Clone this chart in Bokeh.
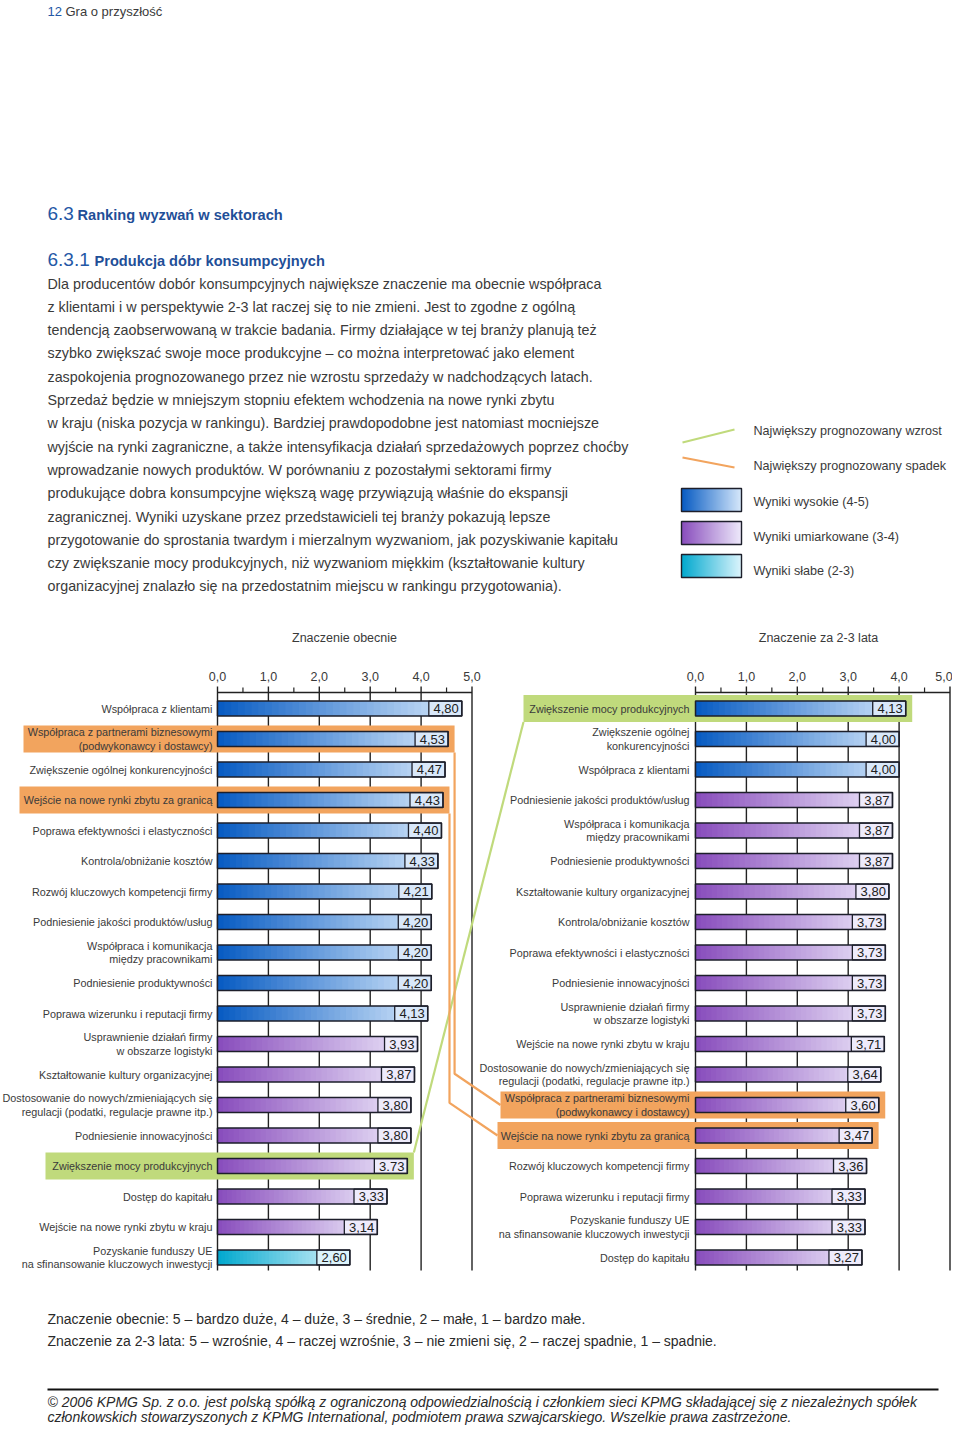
from bokeh.plotting import figure
from bokeh.models import Range1d, ColumnDataSource
from bokeh.embed import file_html
from bokeh.resources import INLINE
from bokeh.core.properties import value

# ---------------------------------------------------------------- data
left_categories = [
    "Współpraca z klientami",
    "Współpraca z partnerami biznesowymi\n(podwykonawcy i dostawcy)",
    "Zwiększenie ogólnej konkurencyjności",
    "Wejście na nowe rynki zbytu za granicą",
    "Poprawa efektywności i elastyczności",
    "Kontrola/obniżanie kosztów",
    "Rozwój kluczowych kompetencji firmy",
    "Podniesienie jakości produktów/usług",
    "Współpraca i komunikacja\nmiędzy pracownikami",
    "Podniesienie produktywności",
    "Poprawa wizerunku i reputacji firmy",
    "Usprawnienie działań firmy\nw obszarze logistyki",
    "Kształtowanie kultury organizacyjnej",
    "Dostosowanie do nowych/zmieniających się\nregulacji (podatki, regulacje prawne itp.)",
    "Podniesienie innowacyjności",
    "Zwiększenie mocy produkcyjnych",
    "Dostęp do kapitału",
    "Wejście na nowe rynki zbytu w kraju",
    "Pozyskanie funduszy UE\nna sfinansowanie kluczowych inwestycji",
]
left_values = [4.80, 4.53, 4.47, 4.43, 4.40, 4.33, 4.21, 4.20, 4.20, 4.20,
               4.13, 3.93, 3.87, 3.80, 3.80, 3.73, 3.33, 3.14, 2.60]
left_value_labels = ["4,80", "4,53", "4,47", "4,43", "4,40", "4,33", "4,21", "4,20",
                     "4,20", "4,20", "4,13", "3,93", "3,87", "3,80", "3,80", "3.73",
                     "3,33", "3,14", "2,60"]

right_categories = [
    "Zwiększenie mocy produkcyjnych",
    "Zwiększenie ogólnej\nkonkurencyjności",
    "Współpraca z klientami",
    "Podniesienie jakości produktów/usług",
    "Współpraca i komunikacja\nmiędzy pracownikami",
    "Podniesienie produktywności",
    "Kształtowanie kultury organizacyjnej",
    "Kontrola/obniżanie kosztów",
    "Poprawa efektywności i elastyczności",
    "Podniesienie innowacyjności",
    "Usprawnienie działań firmy\nw obszarze logistyki",
    "Wejście na nowe rynki zbytu w kraju",
    "Dostosowanie do nowych/zmieniających się\nregulacji (podatki, regulacje prawne itp.)",
    "Współpraca z partnerami biznesowymi\n(podwykonawcy i dostawcy)",
    "Wejście na nowe rynki zbytu za granicą",
    "Rozwój kluczowych kompetencji firmy",
    "Poprawa wizerunku i reputacji firmy",
    "Pozyskanie funduszy UE\nna sfinansowanie kluczowych inwestycji",
    "Dostęp do kapitału",
]
right_values = [4.13, 4.00, 4.00, 3.87, 3.87, 3.87, 3.80, 3.73, 3.73, 3.73,
                3.73, 3.71, 3.64, 3.60, 3.47, 3.36, 3.33, 3.33, 3.27]
right_value_labels = ["4,13", "4,00", "4,00", "3,87", "3,87", "3,87", "3,80", "3,73",
                      "3,73", "3,73", "3,73", "3,71", "3,64", "3,60", "3,47", "3,36",
                      "3,33", "3,33", "3,27"]

tick_values = [0, 1, 2, 3, 4, 5]
tick_labels = ["0,0", "1,0", "2,0", "3,0", "4,0", "5,0"]
minor_tick_values = [0.5, 1.5, 2.5, 3.5, 4.5]

chart_titles = ["Znaczenie obecnie", "Znaczenie za 2-3 lata"]

# items whose rank moved most: "up" = largest forecast growth, "down" = largest forecast fall
highlighted = {
    "Zwiększenie mocy produkcyjnych": "up",
    "Współpraca z partnerami biznesowymi\n(podwykonawcy i dostawcy)": "down",
    "Wejście na nowe rynki zbytu za granicą": "down",
}

legend_labels = ["Największy prognozowany wzrost", "Największy prognozowany spadek",
                 "Wyniki wysokie (4-5)", "Wyniki umiarkowane (3-4)", "Wyniki słabe (2-3)"]

paragraph_lines = [
    "Dla producentów dobór konsumpcyjnych największe znaczenie ma obecnie współpraca",
    "z klientami i w perspektywie 2-3 lat raczej się to nie zmieni. Jest to zgodne z ogólną",
    "tendencją zaobserwowaną w trakcie badania. Firmy działające w tej branży planują też",
    "szybko zwiększać swoje moce produkcyjne – co można interpretować jako element",
    "zaspokojenia prognozowanego przez nie wzrostu sprzedaży w nadchodzących latach.",
    "Sprzedaż będzie w mniejszym stopniu efektem wchodzenia na nowe rynki zbytu",
    "w kraju (niska pozycja w rankingu). Bardziej prawdopodobne jest natomiast mocniejsze",
    "wyjście na rynki zagraniczne, a także intensyfikacja działań sprzedażowych poprzez choćby",
    "wprowadzanie nowych produktów. W porównaniu z pozostałymi sektorami firmy",
    "produkujące dobra konsumpcyjne większą wagę przywiązują właśnie do ekspansji",
    "zagranicznej. Wyniki uzyskane przez przedstawicieli tej branży pokazują lepsze",
    "przygotowanie do sprostania twardym i mierzalnym wyzwaniom, jak pozyskiwanie kapitału",
    "czy zwiększanie mocy produkcyjnych, niż wyzwaniom miękkim (kształtowanie kultury",
    "organizacyjnej znalazło się na przedostatnim miejscu w rankingu przygotowania).",
]
footnote_lines = [
    "Znaczenie obecnie: 5 – bardzo duże, 4 – duże, 3 – średnie, 2 – małe, 1 – bardzo małe.",
    "Znaczenie za 2-3 lata: 5 – wzrośnie, 4 – raczej wzrośnie, 3 – nie zmieni się, 2 – raczej spadnie, 1 – spadnie.",
]
copyright_lines = [
    "© 2006 KPMG Sp. z o.o. jest polską spółką z ograniczoną odpowiedzialnością i członkiem sieci KPMG składającej się z niezależnych spółek",
    "członkowskich stowarzyszonych z KPMG International, podmiotem prawa szwajcarskiego. Wszelkie prawa zastrzeżone.",
]

# ---------------------------------------------------------------- layout / style
W, H = 952, 1427
PX0, PY0 = 0, 0                     # screenshot offset of the figure
UNIT = 50.9                         # px per score unit
X0 = {"lx": 217.0, "rx": 695.0}     # x of score 0 in each chart
LABEL_X = {"lx": 212.0, "rx": 689.0}
ROW0, ROW = 708.0, 30.5             # y of first row centre, row pitch
AXIS_Y, GRID_TOP, GRID_BOT = 692.0, 686.0, 1270.0
BAR_H = 0.49                        # in rows
VBOX_PX = 33.0                      # value box width in px

SANS = "Liberation Sans"
TXT = "#3a3a3a"
DARK = "#1d1f2b"
BLUE_T = "#2458a6"
ORANGE = "#f2a45e"
GREEN = "#c0da7c"

SCHEMES = {
    "high": ((6, 90, 194), (214, 232, 251), "#d9e8fa"),
    "mid": ((136, 76, 188), (238, 234, 251), "#eeebfb"),
    "low": ((0, 168, 206), (220, 244, 252), "#dcf3fb"),
}


def scheme_of(v):
    return "high" if v >= 4 else ("mid" if v >= 3 else "low")


def mix(c0, c1, t):
    return "#%02x%02x%02x" % tuple(int(round(a + (b - a) * t)) for a, b in zip(c0, c1))


def px(name, v):   # decoration helper matching the extra x ranges
    return X0[name] + v * UNIT


def row_y(i):
    return ROW0 + i * ROW


p = figure(width=W, height=H, x_range=Range1d(PX0, PX0 + W), y_range=Range1d(PY0 + H, PY0),
           output_backend="svg", toolbar_location=None, min_border=0,
           x_axis_location=None, y_axis_location=None, outline_line_color=None,
           background_fill_color="white", border_fill_color="white")
p.xgrid.visible = False
p.ygrid.visible = False

for name in ("lx", "rx"):
    s = -(X0[name] - PX0) / UNIT
    p.extra_x_ranges[name] = Range1d(s, s + W / UNIT)
ra = (PY0 + H - ROW0) / ROW
p.extra_y_ranges["rows"] = Range1d(ra, ra - H / ROW)

charts = [("lx", left_categories, left_values, left_value_labels),
          ("rx", right_categories, right_values, right_value_labels)]

# highlight box left edges, per chart and row
HL_LEFT = {("lx", 1): 23, ("lx", 3): 19, ("lx", 15): 45,
           ("rx", 0): 523, ("rx", 13): 500, ("rx", 14): 497}
HL_PAD_R = 6.5
HL_HALF = 13.5

# ---- grid, axis line, ticks
for name, cats, vals, labs in charts:
    p.segment(x0=tick_values, x1=tick_values, y0=GRID_TOP, y1=GRID_BOT,
              x_range_name=name, line_color="#222222", line_width=1.4)
    p.segment(x0=[0], x1=[5], y0=AXIS_Y, y1=AXIS_Y, x_range_name=name,
              line_color="#222222", line_width=1.4)
    p.segment(x0=minor_tick_values, x1=minor_tick_values, y0=AXIS_Y - 5, y1=AXIS_Y,
              x_range_name=name, line_color="#222222", line_width=1.2)
    # keep the last label of the right-hand chart inside the page edge
    offs = [0, 0, 0, 0, 0, -6] if name == "rx" else [0] * 6
    p.text(x=tick_values, y=676, text=tick_labels, x_offset=offs, x_range_name=name,
           text_align="center", text_baseline="middle", text_font=value(SANS),
           text_font_size="12.5px", text_color=TXT)

# ---- highlight boxes and connecting lines
box_geo = {}
for name, cats, vals, labs in charts:
    for i, (c, v) in enumerate(zip(cats, vals)):
        if c in highlighted:
            l = HL_LEFT[(name, i)]
            r = px(name, v) + HL_PAD_R
            t, b = row_y(i) - HL_HALF, row_y(i) + HL_HALF
            col = GREEN if highlighted[c] == "up" else ORANGE
            p.quad(left=[l], right=[r], top=[t], bottom=[b], fill_color=col, line_color=None)
            box_geo[(name, c)] = (l, r, t, b, i)

SLOPE = 0.68
for c, kind in highlighted.items():
    l1, r1, t1, b1, i1 = box_geo[("lx", c)]
    l2, r2, t2, b2, i2 = box_geo[("rx", c)]
    if kind == "up":
        p.line(x=[r1, l2], y=[t1, b2], line_color=GREEN, line_width=2.2)
    else:
        ey = row_y(i2)
        cy = ey - (l2 - r1) * SLOPE
        p.line(x=[r1, r1, l2], y=[b1, cy, ey], line_color=ORANGE, line_width=2.2)

# ---- bars with gradient
NSEG = 36
for name, cats, vals, labs in charts:
    segs = dict(y=[], left=[], right=[], color=[])
    for i, v in enumerate(vals):
        c0, c1, _ = SCHEMES[scheme_of(v)]
        for j in range(NSEG):
            segs["y"].append(i)
            segs["left"].append(v * j / NSEG)
            segs["right"].append(min(v, v * (j + 1.4) / NSEG))
            segs["color"].append(mix(c0, c1, (j + 0.5) / NSEG))
    p.hbar(y="y", left="left", right="right", height=BAR_H, fill_color="color",
           line_color=None, source=ColumnDataSource(segs),
           x_range_name=name, y_range_name="rows")
    rows = list(range(len(vals)))
    box_w = VBOX_PX / UNIT
    p.hbar(y=rows, left=[v - box_w for v in vals], right=vals, height=BAR_H,
           fill_color=[SCHEMES[scheme_of(v)][2] for v in vals], line_color=DARK,
           line_width=1.3, x_range_name=name, y_range_name="rows")
    p.hbar(y=rows, left=0, right=vals, height=BAR_H, fill_color=None,
           line_color=DARK, line_width=1.5, x_range_name=name, y_range_name="rows")
    p.text(x=vals, y=rows, text=labs, x_offset=-3, text_align="right",
           text_baseline="middle", text_font=value(SANS), text_font_size="13px",
           text_color="#202020", x_range_name=name, y_range_name="rows")
    p.text(x=LABEL_X[name], y=rows, text=cats, text_align="right",
           text_baseline="middle", text_font=value(SANS), text_font_size="10.8px",
           text_line_height=1.15, text_color=TXT, y_range_name="rows")

# chart titles
p.text(x=[344, 818], y=[637, 637], text=chart_titles, text_align="center",
       text_baseline="middle", text_font=value(SANS), text_font_size="12.5px",
       text_color=TXT)

# ---- legend
p.line(x=[682, 734], y=[442, 429], line_color=GREEN, line_width=2.2)
p.line(x=[682, 734], y=[457, 467], line_color=ORANGE, line_width=2.2)
for k, key in enumerate(["high", "mid", "low"]):
    c0, c1, _ = SCHEMES[key]
    top = 488 + 33 * k
    xs = [681 + 60 * j / 30 for j in range(30)]
    p.quad(left=xs, right=[x + 2.6 for x in xs], top=top, bottom=top + 23,
           fill_color=[mix(c0, c1, (j + 0.5) / 30) for j in range(30)], line_color=None)
    p.quad(left=[681], right=[741], top=[top], bottom=[top + 23], fill_color=None,
           line_color=DARK, line_width=1.4)
p.text(x=753, y=[430, 465, 501, 536, 570], text=legend_labels, text_baseline="middle",
       text_font=value(SANS), text_font_size="12.6px", text_color=TXT)

# ---- page texts
p.text(x=[47], y=[11], text=["12"], text_baseline="middle", text_font=value(SANS),
       text_font_size="13px", text_color=BLUE_T)
p.text(x=[65], y=[11], text=["Gra o przyszłość"], text_baseline="middle",
       text_font=value(SANS), text_font_size="13px", text_color=TXT)

p.text(x=[47, 47], y=[213, 259], text=["6.3", "6.3.1"], text_baseline="middle",
       text_font=value(SANS), text_font_size="19px", text_color=BLUE_T)
p.text(x=[77, 94], y=[214, 260],
       text=["Ranking wyzwań w sektorach", "Produkcja dóbr konsumpcyjnych"],
       text_baseline="middle", text_font=value(SANS), text_font_style="bold",
       text_font_size="14.6px", text_color="#1f4f98")

p.text(x=47, y=[283 + 23.3 * k for k in range(len(paragraph_lines))],
       text=paragraph_lines, text_baseline="middle", text_font=value(SANS),
       text_font_size="14.3px", text_color=TXT)

p.text(x=47, y=[1318, 1340], text=footnote_lines, text_baseline="middle",
       text_font=value(SANS), text_font_size="14px", text_color="#2a2a2a")

p.segment(x0=[47], x1=[938], y0=[1389], y1=[1389], line_color="#111111", line_width=2.2)
p.text(x=47, y=[1401, 1416], text=copyright_lines, text_baseline="middle",
       text_font=value(SANS), text_font_style="italic", text_font_size="14px",
       text_color="#2a2a2a")

open("out.html", "w").write(file_html(p, INLINE))
